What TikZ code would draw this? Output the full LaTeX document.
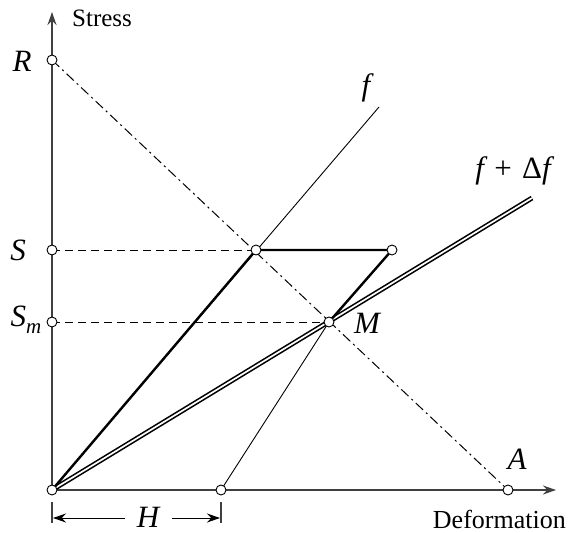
\documentclass[tikz,border=0pt]{standalone}
\usepackage{fontspec}
\setmainfont{Liberation Serif}
\usetikzlibrary{arrows.meta}
\begin{document}
\begin{tikzpicture}[x=1pt,y=-1pt,
  pt/.style={circle,draw,fill=white,inner sep=0pt,minimum size=10pt,line width=0.9pt},
  lbl/.style={font=\fontsize{25.5}{30}\selectfont,inner sep=0pt},
  mlbl/.style={font=\fontsize{31}{36}\selectfont\itshape,inner sep=0pt},
  axisline/.style={line width=1.4pt,draw=black!75,-{Stealth[length=13pt,width=9pt]}},
  tickline/.style={line width=1.4pt,draw=black!75},
  heavy/.style={line width=2.4pt},
  thinline/.style={line width=0.9pt},
  dimarrow/.style={line width=1pt,-{Stealth[length=13pt,width=9pt]}},
  dashline/.style={line width=1pt,dash pattern=on 8pt off 5pt},
  dashdot/.style={line width=1pt,dash pattern=on 10pt off 4pt on 2pt off 4pt},
  dbl/.style={line width=1.6pt,double=white,double distance=1.7pt}]
\useasboundingbox (0,0) rectangle (568,533);
% key coordinates
\coordinate (O) at (52,490);
\coordinate (ytop) at (52,12);
\coordinate (xend) at (556,490);
\coordinate (R) at (52,60);
\coordinate (S) at (52,250);
\coordinate (Sm) at (52,322);
\coordinate (P) at (256,250);
\coordinate (Q) at (392,250);
\coordinate (M) at (329,322);
\coordinate (A) at (508,490);
\coordinate (H) at (221,490);
\coordinate (fend) at (379,107);
\coordinate (dfend) at (532,198);
\coordinate (t1a) at (52,502);
\coordinate (t1b) at (52,523);
\coordinate (t2a) at (221,502);
\coordinate (t2b) at (221,523);
\coordinate (hl) at (125,518);
\coordinate (hle) at (53,518);
\coordinate (hr) at (172,518);
\coordinate (hre) at (220,518);
% axes
\draw[axisline] (O) -- (ytop);
\draw[axisline] (O) -- (xend);
% dimension H
\draw[tickline] (t1a) -- (t1b);
\draw[tickline] (t2a) -- (t2b);
\draw[dimarrow] (hl) -- (hle);
\draw[dimarrow] (hr) -- (hre);
% dashed and dash-dot lines
\draw[dashline] (S) -- (P);
\draw[dashline] (Sm) -- (M);
\draw[dashdot] (R) -- (A);
% f lines
\draw[thinline] (O) -- (fend);
\draw[dbl] (O) -- (dfend);
\draw[thinline] (H) -- (M);
% loading path
\draw[heavy,line join=round] (O) -- (P) -- (Q) -- (M);
% points
\foreach \p in {O,R,S,Sm,P,Q,M,A,H} \node[pt] (n\p) at (\p) {};
% labels
\node[lbl,anchor=base west,font=\fontsize{25}{30}\selectfont] (tStress) at (72,26) {Stress};
\node[mlbl] (tR) at (22,61) {R};
\node[mlbl] (tS) at (18,250) {S};
\node[mlbl] (tSm) at (26,320) {S\raisebox{-0.22em}{\fontsize{21}{24}\selectfont m}};
\node[mlbl] (tM) at (367,323) {M};
\node[mlbl] (tA) at (517,459) {A};
\node[mlbl] (tf) at (366,88) {f};
\node[mlbl] (tdf) at (513,171) {f\,\,\upshape+\,\,Δ\itshape f};
\node[mlbl,anchor=base] (tH) at (148,527) {H};
\node[lbl,anchor=base east,font=\fontsize{26}{30}\selectfont] (tDef) at (566,528) {Deformation};
\end{tikzpicture}
\end{document}
